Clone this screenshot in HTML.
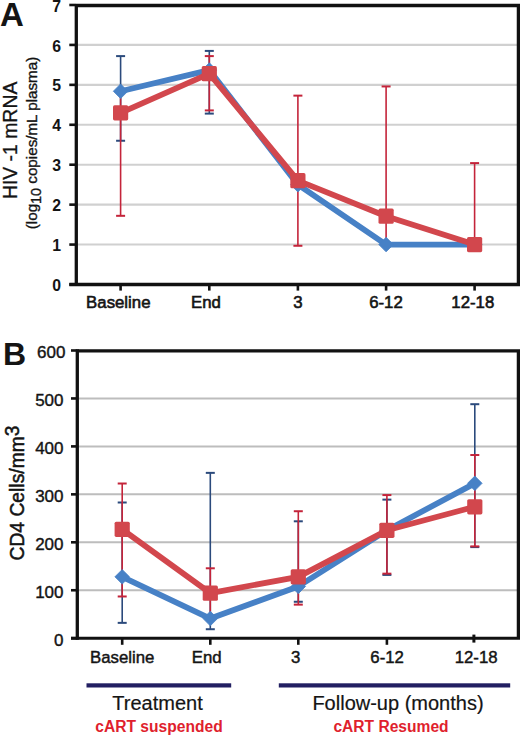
<!DOCTYPE html>
<html><head><meta charset="utf-8"><style>
html,body{margin:0;padding:0;background:#fff;}
body{width:520px;height:735px;overflow:hidden;font-family:"Liberation Sans", sans-serif;}
svg{display:block;}
</style></head><body>
<svg width="520" height="735" viewBox="0 0 520 735"><rect width="520" height="735" fill="#fff"/><line x1="76.3" y1="244.57" x2="518" y2="244.57" stroke="#d0d0d0" stroke-width="2.1"/><line x1="76.3" y1="204.64" x2="518" y2="204.64" stroke="#d0d0d0" stroke-width="2.1"/><line x1="76.3" y1="164.71" x2="518" y2="164.71" stroke="#d0d0d0" stroke-width="2.1"/><line x1="76.3" y1="124.78" x2="518" y2="124.78" stroke="#d0d0d0" stroke-width="2.1"/><line x1="76.3" y1="84.85" x2="518" y2="84.85" stroke="#d0d0d0" stroke-width="2.1"/><line x1="76.3" y1="44.92" x2="518" y2="44.92" stroke="#d0d0d0" stroke-width="2.1"/><line x1="120.60" y1="56.10" x2="120.60" y2="140.75" stroke="#2b4a7c" stroke-width="1.6"/><line x1="116.10" y1="56.10" x2="125.10" y2="56.10" stroke="#2b4a7c" stroke-width="2.0"/><line x1="116.10" y1="140.75" x2="125.10" y2="140.75" stroke="#2b4a7c" stroke-width="2.0"/><line x1="209.30" y1="50.91" x2="209.30" y2="113.60" stroke="#2b4a7c" stroke-width="1.6"/><line x1="204.80" y1="50.91" x2="213.80" y2="50.91" stroke="#2b4a7c" stroke-width="2.0"/><line x1="204.80" y1="113.60" x2="213.80" y2="113.60" stroke="#2b4a7c" stroke-width="2.0"/><line x1="120.60" y1="91.24" x2="120.60" y2="215.82" stroke="#c4243a" stroke-width="1.6"/><line x1="116.10" y1="215.82" x2="125.10" y2="215.82" stroke="#c4243a" stroke-width="2.0"/><line x1="209.30" y1="56.10" x2="209.30" y2="110.41" stroke="#c4243a" stroke-width="1.6"/><line x1="204.80" y1="56.10" x2="213.80" y2="56.10" stroke="#c4243a" stroke-width="2.0"/><line x1="204.80" y1="110.41" x2="213.80" y2="110.41" stroke="#c4243a" stroke-width="2.0"/><line x1="297.90" y1="95.63" x2="297.90" y2="245.77" stroke="#c4243a" stroke-width="1.6"/><line x1="293.40" y1="95.63" x2="302.40" y2="95.63" stroke="#c4243a" stroke-width="2.0"/><line x1="293.40" y1="245.77" x2="302.40" y2="245.77" stroke="#c4243a" stroke-width="2.0"/><line x1="386.10" y1="86.45" x2="386.10" y2="242.57" stroke="#c4243a" stroke-width="1.6"/><line x1="381.60" y1="86.45" x2="390.60" y2="86.45" stroke="#c4243a" stroke-width="2.0"/><line x1="474.60" y1="163.11" x2="474.60" y2="244.57" stroke="#c4243a" stroke-width="1.6"/><line x1="470.10" y1="163.11" x2="479.10" y2="163.11" stroke="#c4243a" stroke-width="2.0"/><polyline points="120.60,91.24 209.30,70.08 297.90,184.68 386.10,244.57 474.60,244.57" fill="none" stroke="#4781c6" stroke-width="5.8" stroke-linejoin="round"/><path d="M120.60 83.94L127.90 91.24L120.60 98.54L113.30 91.24Z" fill="#4781c6" stroke="#4781c6" stroke-width="0.8" stroke-linejoin="round"/><path d="M209.30 62.78L216.60 70.08L209.30 77.38L202.00 70.08Z" fill="#4781c6" stroke="#4781c6" stroke-width="0.8" stroke-linejoin="round"/><path d="M297.90 177.38L305.20 184.68L297.90 191.98L290.60 184.68Z" fill="#4781c6" stroke="#4781c6" stroke-width="0.8" stroke-linejoin="round"/><path d="M386.10 237.27L393.40 244.57L386.10 251.87L378.80 244.57Z" fill="#4781c6" stroke="#4781c6" stroke-width="0.8" stroke-linejoin="round"/><path d="M474.60 237.27L481.90 244.57L474.60 251.87L467.30 244.57Z" fill="#4781c6" stroke="#4781c6" stroke-width="0.8" stroke-linejoin="round"/><polyline points="120.60,112.80 209.30,73.67 297.90,180.68 386.10,216.22 474.60,244.57" fill="none" stroke="#d2474d" stroke-width="5.8" stroke-linejoin="round"/><rect x="113.00" y="105.20" width="15.20" height="15.20" rx="1.6" fill="#d2474d"/><rect x="201.70" y="66.07" width="15.20" height="15.20" rx="1.6" fill="#d2474d"/><rect x="290.30" y="173.08" width="15.20" height="15.20" rx="1.6" fill="#d2474d"/><rect x="378.50" y="208.62" width="15.20" height="15.20" rx="1.6" fill="#d2474d"/><rect x="467.00" y="236.97" width="15.20" height="15.20" rx="1.6" fill="#d2474d"/><path d="M76.3 5.5H518.4V284.5" fill="none" stroke="#111" stroke-width="3.3"/><line x1="76.3" y1="3.9" x2="76.3" y2="286.1" stroke="#111" stroke-width="3.3"/><line x1="69.3" y1="284.5" x2="520" y2="284.5" stroke="#111" stroke-width="3.3"/><line x1="69.3" y1="284.50" x2="76.3" y2="284.50" stroke="#111" stroke-width="2.6"/><line x1="69.3" y1="244.57" x2="76.3" y2="244.57" stroke="#111" stroke-width="2.6"/><line x1="69.3" y1="204.64" x2="76.3" y2="204.64" stroke="#111" stroke-width="2.6"/><line x1="69.3" y1="164.71" x2="76.3" y2="164.71" stroke="#111" stroke-width="2.6"/><line x1="69.3" y1="124.78" x2="76.3" y2="124.78" stroke="#111" stroke-width="2.6"/><line x1="69.3" y1="84.85" x2="76.3" y2="84.85" stroke="#111" stroke-width="2.6"/><line x1="69.3" y1="44.92" x2="76.3" y2="44.92" stroke="#111" stroke-width="2.6"/><line x1="69.3" y1="4.99" x2="76.3" y2="4.99" stroke="#111" stroke-width="2.6"/><line x1="120.60" y1="284" x2="120.60" y2="290.6" stroke="#111" stroke-width="2.6"/><line x1="209.30" y1="284" x2="209.30" y2="290.6" stroke="#111" stroke-width="2.6"/><line x1="297.90" y1="284" x2="297.90" y2="290.6" stroke="#111" stroke-width="2.6"/><line x1="386.10" y1="284" x2="386.10" y2="290.6" stroke="#111" stroke-width="2.6"/><line x1="474.60" y1="284" x2="474.60" y2="290.6" stroke="#111" stroke-width="2.6"/><text x="61.00" y="291.10" text-anchor="end" font-family='"Liberation Sans", sans-serif' font-size="15.8" font-weight="bold" fill="#141414">0</text><text x="61.00" y="251.17" text-anchor="end" font-family='"Liberation Sans", sans-serif' font-size="15.8" font-weight="bold" fill="#141414">1</text><text x="61.00" y="211.24" text-anchor="end" font-family='"Liberation Sans", sans-serif' font-size="15.8" font-weight="bold" fill="#141414">2</text><text x="61.00" y="171.31" text-anchor="end" font-family='"Liberation Sans", sans-serif' font-size="15.8" font-weight="bold" fill="#141414">3</text><text x="61.00" y="131.38" text-anchor="end" font-family='"Liberation Sans", sans-serif' font-size="15.8" font-weight="bold" fill="#141414">4</text><text x="61.00" y="91.45" text-anchor="end" font-family='"Liberation Sans", sans-serif' font-size="15.8" font-weight="bold" fill="#141414">5</text><text x="61.00" y="51.52" text-anchor="end" font-family='"Liberation Sans", sans-serif' font-size="15.8" font-weight="bold" fill="#141414">6</text><text x="61.00" y="11.59" text-anchor="end" font-family='"Liberation Sans", sans-serif' font-size="15.8" font-weight="bold" fill="#141414">7</text><text x="118.30" y="308.40" text-anchor="middle" font-family='"Liberation Sans", sans-serif' font-size="16.8" fill="#141414" stroke="#141414" stroke-width="0.6">Baseline</text><text x="205.90" y="308.40" text-anchor="middle" font-family='"Liberation Sans", sans-serif' font-size="16.8" fill="#141414" stroke="#141414" stroke-width="0.6">End</text><text x="297.90" y="308.40" text-anchor="middle" font-family='"Liberation Sans", sans-serif' font-size="16.8" fill="#141414" stroke="#141414" stroke-width="0.6">3</text><text x="385.95" y="308.40" text-anchor="middle" font-family='"Liberation Sans", sans-serif' font-size="16.8" fill="#141414" stroke="#141414" stroke-width="0.6">6-12</text><text x="472.80" y="308.40" text-anchor="middle" font-family='"Liberation Sans", sans-serif' font-size="16.8" fill="#141414" stroke="#141414" stroke-width="0.6">12-18</text><text x="0.10" y="26.00" text-anchor="start" font-family='"Liberation Sans", sans-serif' font-size="33" font-weight="bold" fill="#141414">A</text><text transform="translate(16.9,140.4) rotate(-90)" text-anchor="middle" font-family='"Liberation Sans", sans-serif' font-size="19.4" fill="#141414" stroke="#141414" stroke-width="0.3">HIV -1 mRNA</text><text transform="translate(36.6,143) rotate(-90)" text-anchor="middle" font-family='"Liberation Sans", sans-serif' font-size="15.2" fill="#141414" stroke="#141414" stroke-width="0.35">(log<tspan dy="4.3" font-size="14.4">10</tspan><tspan dy="-4.3"> copies/mL plasma)</tspan></text><line x1="77.3" y1="590.25" x2="518" y2="590.25" stroke="#bdbdbd" stroke-width="2.0"/><line x1="77.3" y1="542.30" x2="518" y2="542.30" stroke="#bdbdbd" stroke-width="2.0"/><line x1="77.3" y1="494.35" x2="518" y2="494.35" stroke="#bdbdbd" stroke-width="2.0"/><line x1="77.3" y1="446.40" x2="518" y2="446.40" stroke="#bdbdbd" stroke-width="2.0"/><line x1="77.3" y1="398.45" x2="518" y2="398.45" stroke="#bdbdbd" stroke-width="2.0"/><line x1="122.20" y1="502.50" x2="122.20" y2="622.86" stroke="#2b4a7c" stroke-width="1.6"/><line x1="117.70" y1="502.50" x2="126.70" y2="502.50" stroke="#2b4a7c" stroke-width="2.0"/><line x1="117.70" y1="622.86" x2="126.70" y2="622.86" stroke="#2b4a7c" stroke-width="2.0"/><line x1="210.30" y1="472.87" x2="210.30" y2="629.23" stroke="#2b4a7c" stroke-width="1.6"/><line x1="205.80" y1="472.87" x2="214.80" y2="472.87" stroke="#2b4a7c" stroke-width="2.0"/><line x1="205.80" y1="629.23" x2="214.80" y2="629.23" stroke="#2b4a7c" stroke-width="2.0"/><line x1="298.30" y1="521.30" x2="298.30" y2="601.76" stroke="#2b4a7c" stroke-width="1.6"/><line x1="293.80" y1="521.30" x2="302.80" y2="521.30" stroke="#2b4a7c" stroke-width="2.0"/><line x1="293.80" y1="601.76" x2="302.80" y2="601.76" stroke="#2b4a7c" stroke-width="2.0"/><line x1="386.90" y1="499.62" x2="386.90" y2="574.91" stroke="#2b4a7c" stroke-width="1.6"/><line x1="382.40" y1="499.62" x2="391.40" y2="499.62" stroke="#2b4a7c" stroke-width="2.0"/><line x1="382.40" y1="574.91" x2="391.40" y2="574.91" stroke="#2b4a7c" stroke-width="2.0"/><line x1="474.80" y1="404.20" x2="474.80" y2="547.10" stroke="#2b4a7c" stroke-width="1.6"/><line x1="470.30" y1="404.20" x2="479.30" y2="404.20" stroke="#2b4a7c" stroke-width="2.0"/><line x1="470.30" y1="547.10" x2="479.30" y2="547.10" stroke="#2b4a7c" stroke-width="2.0"/><line x1="122.20" y1="483.51" x2="122.20" y2="596.48" stroke="#c4243a" stroke-width="1.6"/><line x1="117.70" y1="483.51" x2="126.70" y2="483.51" stroke="#c4243a" stroke-width="2.0"/><line x1="117.70" y1="596.48" x2="126.70" y2="596.48" stroke="#c4243a" stroke-width="2.0"/><line x1="210.30" y1="568.29" x2="210.30" y2="616.62" stroke="#c4243a" stroke-width="1.6"/><line x1="205.80" y1="568.29" x2="214.80" y2="568.29" stroke="#c4243a" stroke-width="2.0"/><line x1="298.30" y1="511.23" x2="298.30" y2="604.63" stroke="#c4243a" stroke-width="1.6"/><line x1="293.80" y1="511.23" x2="302.80" y2="511.23" stroke="#c4243a" stroke-width="2.0"/><line x1="293.80" y1="604.63" x2="302.80" y2="604.63" stroke="#c4243a" stroke-width="2.0"/><line x1="386.90" y1="495.07" x2="386.90" y2="573.66" stroke="#c4243a" stroke-width="1.6"/><line x1="382.40" y1="495.07" x2="391.40" y2="495.07" stroke="#c4243a" stroke-width="2.0"/><line x1="382.40" y1="573.66" x2="391.40" y2="573.66" stroke="#c4243a" stroke-width="2.0"/><line x1="474.80" y1="455.03" x2="474.80" y2="546.38" stroke="#c4243a" stroke-width="1.6"/><line x1="470.30" y1="455.03" x2="479.30" y2="455.03" stroke="#c4243a" stroke-width="2.0"/><line x1="470.30" y1="546.38" x2="479.30" y2="546.38" stroke="#c4243a" stroke-width="2.0"/><polyline points="122.20,576.82 210.30,618.54 298.30,586.41 386.90,530.31 474.80,483.32" fill="none" stroke="#4781c6" stroke-width="5.8" stroke-linejoin="round"/><path d="M122.20 569.52L129.50 576.82L122.20 584.12L114.90 576.82Z" fill="#4781c6" stroke="#4781c6" stroke-width="0.8" stroke-linejoin="round"/><path d="M210.30 611.24L217.60 618.54L210.30 625.84L203.00 618.54Z" fill="#4781c6" stroke="#4781c6" stroke-width="0.8" stroke-linejoin="round"/><path d="M298.30 579.11L305.60 586.41L298.30 593.71L291.00 586.41Z" fill="#4781c6" stroke="#4781c6" stroke-width="0.8" stroke-linejoin="round"/><path d="M386.90 523.01L394.20 530.31L386.90 537.61L379.60 530.31Z" fill="#4781c6" stroke="#4781c6" stroke-width="0.8" stroke-linejoin="round"/><path d="M474.80 476.02L482.10 483.32L474.80 490.62L467.50 483.32Z" fill="#4781c6" stroke="#4781c6" stroke-width="0.8" stroke-linejoin="round"/><polyline points="122.20,529.35 210.30,593.13 298.30,576.82 386.90,530.31 474.80,506.82" fill="none" stroke="#d2474d" stroke-width="5.8" stroke-linejoin="round"/><rect x="114.60" y="521.75" width="15.20" height="15.20" rx="1.6" fill="#d2474d"/><rect x="202.70" y="585.53" width="15.20" height="15.20" rx="1.6" fill="#d2474d"/><rect x="290.70" y="569.22" width="15.20" height="15.20" rx="1.6" fill="#d2474d"/><rect x="379.30" y="522.71" width="15.20" height="15.20" rx="1.6" fill="#d2474d"/><rect x="467.20" y="499.22" width="15.20" height="15.20" rx="1.6" fill="#d2474d"/><path d="M77.3 350.9H518.4V638.2" fill="none" stroke="#111" stroke-width="3.3"/><line x1="77.3" y1="349.3" x2="77.3" y2="639.8" stroke="#111" stroke-width="3.3"/><line x1="71" y1="638.2" x2="520" y2="638.2" stroke="#111" stroke-width="3.1"/><line x1="71" y1="638.20" x2="77.3" y2="638.20" stroke="#111" stroke-width="2.6"/><line x1="71" y1="590.25" x2="77.3" y2="590.25" stroke="#111" stroke-width="2.6"/><line x1="71" y1="542.30" x2="77.3" y2="542.30" stroke="#111" stroke-width="2.6"/><line x1="71" y1="494.35" x2="77.3" y2="494.35" stroke="#111" stroke-width="2.6"/><line x1="71" y1="446.40" x2="77.3" y2="446.40" stroke="#111" stroke-width="2.6"/><line x1="71" y1="398.45" x2="77.3" y2="398.45" stroke="#111" stroke-width="2.6"/><line x1="71" y1="350.50" x2="77.3" y2="350.50" stroke="#111" stroke-width="2.6"/><line x1="122.20" y1="638" x2="122.20" y2="644.8" stroke="#111" stroke-width="2.6"/><line x1="210.30" y1="638" x2="210.30" y2="644.8" stroke="#111" stroke-width="2.6"/><line x1="298.30" y1="638" x2="298.30" y2="644.8" stroke="#111" stroke-width="2.6"/><line x1="386.90" y1="638" x2="386.90" y2="644.8" stroke="#111" stroke-width="2.6"/><line x1="473.9" y1="634.6" x2="473.9" y2="642.6" stroke="#111" stroke-width="3"/><text x="63.50" y="645.60" text-anchor="end" font-family='"Liberation Sans", sans-serif' font-size="17" fill="#141414" stroke="#141414" stroke-width="0.4">0</text><text x="63.50" y="597.65" text-anchor="end" font-family='"Liberation Sans", sans-serif' font-size="17" fill="#141414" stroke="#141414" stroke-width="0.4">100</text><text x="63.50" y="549.70" text-anchor="end" font-family='"Liberation Sans", sans-serif' font-size="17" fill="#141414" stroke="#141414" stroke-width="0.4">200</text><text x="63.50" y="501.75" text-anchor="end" font-family='"Liberation Sans", sans-serif' font-size="17" fill="#141414" stroke="#141414" stroke-width="0.4">300</text><text x="63.50" y="453.80" text-anchor="end" font-family='"Liberation Sans", sans-serif' font-size="17" fill="#141414" stroke="#141414" stroke-width="0.4">400</text><text x="63.50" y="405.85" text-anchor="end" font-family='"Liberation Sans", sans-serif' font-size="17" fill="#141414" stroke="#141414" stroke-width="0.4">500</text><text x="65.40" y="357.90" text-anchor="end" font-family='"Liberation Sans", sans-serif' font-size="17" fill="#141414" stroke="#141414" stroke-width="0.4">600</text><text x="122.25" y="662.60" text-anchor="middle" font-family='"Liberation Sans", sans-serif' font-size="16.8" fill="#141414" stroke="#141414" stroke-width="0.45">Baseline</text><text x="206.75" y="662.60" text-anchor="middle" font-family='"Liberation Sans", sans-serif' font-size="16.8" fill="#141414" stroke="#141414" stroke-width="0.45">End</text><text x="295.70" y="662.60" text-anchor="middle" font-family='"Liberation Sans", sans-serif' font-size="16.8" fill="#141414" stroke="#141414" stroke-width="0.45">3</text><text x="387.10" y="662.60" text-anchor="middle" font-family='"Liberation Sans", sans-serif' font-size="16.8" fill="#141414" stroke="#141414" stroke-width="0.45">6-12</text><text x="476.10" y="662.60" text-anchor="middle" font-family='"Liberation Sans", sans-serif' font-size="16.8" fill="#141414" stroke="#141414" stroke-width="0.45">12-18</text><text x="3.00" y="364.70" text-anchor="start" font-family='"Liberation Sans", sans-serif' font-size="32" font-weight="bold" fill="#141414">B</text><text transform="translate(24,493) rotate(-90)" text-anchor="middle" font-family='"Liberation Sans", sans-serif' font-size="19.3" fill="#141414" stroke="#141414" stroke-width="0.5">CD4 Cells/mm<tspan dy="-5">3</tspan></text><rect x="86.5" y="683.3" width="144.7" height="4.2" fill="#221f62"/><rect x="278.8" y="683.3" width="231.4" height="4.2" fill="#221f62"/><text x="157.50" y="709.60" text-anchor="middle" font-family='"Liberation Sans", sans-serif' font-size="20" fill="#141414" stroke="#141414" stroke-width="0.2">Treatment</text><text x="159.00" y="732.30" text-anchor="middle" font-family='"Liberation Sans", sans-serif' font-size="15.6" font-weight="bold" fill="#e01f2e">cART suspended</text><text x="398.00" y="709.60" text-anchor="middle" font-family='"Liberation Sans", sans-serif' font-size="20" fill="#141414" stroke="#141414" stroke-width="0.2">Follow-up (months)</text><text x="391.00" y="732.40" text-anchor="middle" font-family='"Liberation Sans", sans-serif' font-size="15.6" font-weight="bold" fill="#e01f2e">cART Resumed</text></svg>
</body></html>
